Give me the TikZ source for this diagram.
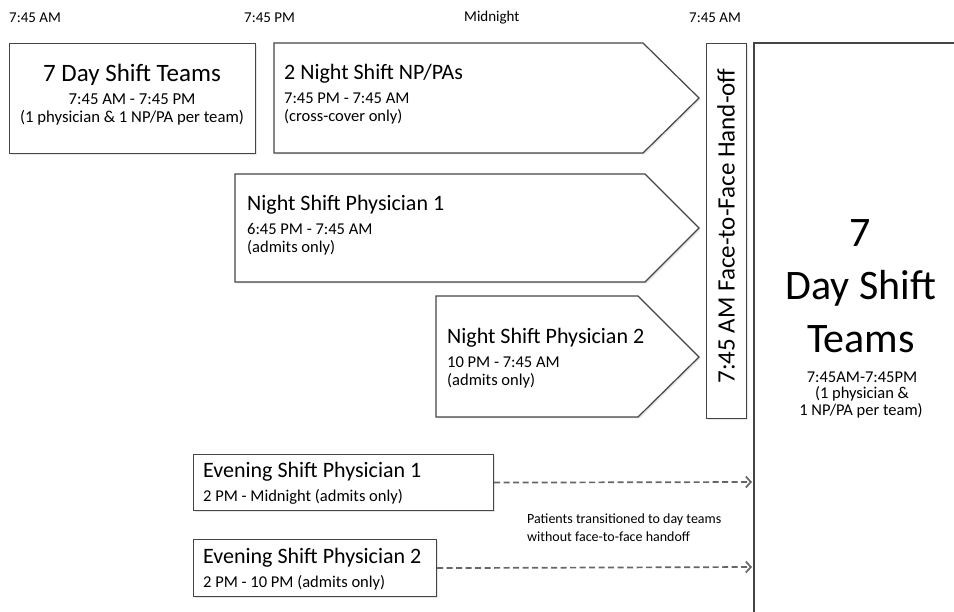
\documentclass[tikz,border=0pt]{standalone}
\usepackage{fontspec}
\setmainfont{Carlito}
\usetikzlibrary{arrows.meta,shadows}
\definecolor{edge}{HTML}{454545}
\definecolor{dash}{HTML}{666666}
\begin{document}
\begin{tikzpicture}[x=1pt,y=-1pt,
  shp/.style={draw=edge, line width=1.2pt, fill=white, drop shadow={shadow xshift=1.5pt, shadow yshift=-1.5pt, opacity=0.2}},
  boxnode/.style={shp, rectangle, inner sep=0pt, anchor=north west},
  timelbl/.style={font=\fontsize{15}{17}\selectfont, anchor=west, inner sep=0pt},
  ttl/.style={font=\fontsize{22}{26}\selectfont, anchor=west, inner sep=0pt},
  ttlc/.style={font=\fontsize{25}{28}\selectfont, inner sep=0pt},
  sub/.style={font=\fontsize{16.5}{19}\selectfont, anchor=west, inner sep=0pt},
  subc/.style={font=\fontsize{16.7}{19}\selectfont, inner sep=0pt},
  big/.style={font=\fontsize{42}{46}\selectfont, inner sep=0pt},
  small/.style={font=\fontsize{16.5}{19}\selectfont, inner sep=0pt},
  note/.style={font=\fontsize{14}{16}\selectfont, anchor=west, inner sep=0pt},
  dasharrow/.style={draw=dash, line width=1.7pt, dash pattern=on 6pt off 3.5pt, -{Straight Barb[length=5pt,width=11pt]}}
]
\useasboundingbox (0,0) rectangle (954,612);

% time labels
\node[timelbl] (t1) at (9,18) {7:45 AM};
\node[timelbl] (t2) at (244,18) {7:45 PM};
\node[timelbl] (t3) at (464,18) {Midnight};
\node[timelbl] (t4) at (689,18) {7:45 AM};

% 7 Day Shift Teams (left)
\node[boxnode, minimum width=246, minimum height=110] (day1) at (9,43) {};
\node[ttlc] (day1a) at (132,75) {7 Day Shift Teams};
\node[subc] (day1b) at (132,99) {7:45 AM - 7:45 PM};
\node[subc] (day1c) at (132,118) {(1 physician \& 1 NP/PA per team)};

% 2 Night Shift NP/PAs
\draw[shp] (274,43) -- (643,43) -- (699,98) -- (643,153) -- (274,153) -- cycle;
\node[ttl] (np1) at (284,74) {2 Night Shift NP/PAs};
\node[sub] (np2) at (284,98) {7:45 PM - 7:45 AM};
\node[sub] (np3) at (284,117) {(cross-cover only)};

% Night Shift Physician 1
\draw[shp] (235,174) -- (645,174) -- (699,228) -- (645,282) -- (235,282) -- cycle;
\node[ttl] (p1a) at (247,205) {Night Shift Physician 1};
\node[sub] (p1b) at (247,229) {6:45 PM - 7:45 AM};
\node[sub] (p1c) at (247,248) {(admits only)};

% Night Shift Physician 2
\draw[shp] (436,296) -- (638,296) -- (699,357) -- (638,417) -- (436,417) -- cycle;
\node[ttl] (p2a) at (447,338) {Night Shift Physician 2};
\node[sub] (p2b) at (447,362) {10 PM - 7:45 AM};
\node[sub] (p2c) at (447,381) {(admits only)};

% Hand-off bar
\node[boxnode, minimum width=40, minimum height=375] (hand) at (706,43) {};
\node[font=\fontsize{25}{28}\selectfont, rotate=90, inner sep=0pt] (handt) at (726,226) {7:45 AM Face-to-Face Hand-off};

% Big right day teams (open box)
\draw[draw=edge, line width=1.2pt] (754,612) -- (754,43) -- (954,43);
\coordinate (bigL1) at (752,482);
\coordinate (bigL2) at (752,567);
\node[big] (b1) at (860,233) {7};
\node[big] (b2) at (861,288) {Day Shift};
\node[big] (b3) at (861,339) {Teams};
\node[small] (b4) at (862,377) {7:45AM-7:45PM};
\node[small] (b5) at (862,394) {(1 physician \&};
\node[small] (b6) at (861,411) {1 NP/PA per team)};

% Evening shift physicians
\node[boxnode, minimum width=300, minimum height=56] (ev1) at (193,454) {};
\node[ttl] (ev1a) at (203,472) {Evening Shift Physician 1};
\node[sub] (ev1b) at (203,497) {2 PM - Midnight (admits only)};

\node[boxnode, minimum width=243, minimum height=57] (ev2) at (193,539) {};
\node[ttl] (ev2a) at (203,558) {Evening Shift Physician 2};
\node[sub] (ev2b) at (203,583) {2 PM - 10 PM (admits only)};

\draw[dasharrow] (ev1.east) -- (bigL1);
\draw[dasharrow] (ev2.east) -- (bigL2);

\node[note] (n1) at (527,520) {Patients transitioned to day teams};
\node[note] (n2) at (527,537) {without face-to-face handoff};
\end{tikzpicture}
\end{document}
